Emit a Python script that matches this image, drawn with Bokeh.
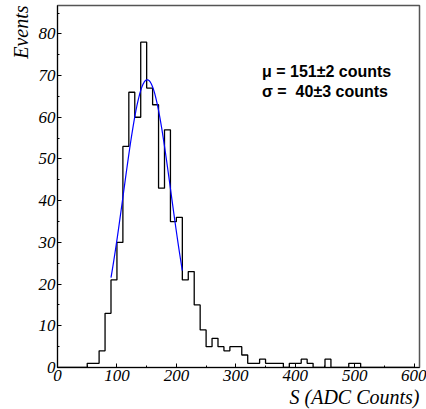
import numpy as np
from bokeh.plotting import figure
from bokeh.models import Range1d, SingleIntervalTicker, Label, Title
from bokeh.embed import file_html
from bokeh.resources import INLINE

# Histogram: bin lower edges (width 10) and counts
bin_width = 10
bin_low = list(range(0, 600, bin_width))
counts = [0, 0, 0, 0, 0,
          1, 1, 4, 13, 21,
          30, 53, 66, 60, 78,
          67, 63, 43, 57, 35,
          36, 21, 23, 15, 9,
          5, 7, 5, 4, 5,
          5, 3, 1, 1, 2,
          1, 1, 1, 0, 1,
          1, 2, 1, 0, 0,
          2, 0, 0, 0, 1,
          1, 0, 0, 0, 0,
          0, 0, 0, 0, 0]

# Gaussian fit parameters shown on the chart
fit_amp = 69.0
fit_mu = 151.0
fit_sigma = 40.0
fit_range = [90, 210]

x_title = "S (ADC Counts)"
y_title = "Events"
fit_text = ["μ = 151±2 counts", "σ =\u00a0 40±3 counts"]

p = figure(width=426, height=409, output_backend="svg", toolbar_location=None,
           x_range=Range1d(0, 609), y_range=Range1d(0, 86.8),
           min_border_left=57, min_border_right=7, min_border_top=5,
           min_border_bottom=42)
p.grid.visible = False
p.background_fill_color = "white"
p.border_fill_color = "white"
p.outline_line_color = "#555555"
p.outline_line_width = 1.5

for ax, iv in ((p.xaxis, 100), (p.yaxis, 10)):
    ax.ticker = SingleIntervalTicker(interval=iv, num_minor_ticks=2)
    ax.major_tick_in = 4
    ax.major_tick_out = 0
    ax.minor_tick_in = 2
    ax.minor_tick_out = 0
    ax.axis_line_color = "black"
    ax.major_tick_line_color = "black"
    ax.minor_tick_line_color = "black"
    ax.major_label_text_font = "Liberation Serif"
    ax.major_label_text_font_style = "italic"
    ax.major_label_text_font_size = "17px"
    ax.major_label_text_color = "black"
p.xaxis.major_label_standoff = 2
p.yaxis.major_label_standoff = 2

p.add_layout(Title(text=x_title, align="right", text_font="Liberation Serif",
                   text_font_style="italic", text_font_size="20px",
                   text_color="black", standoff=0), "below")
p.add_layout(Title(text=y_title, align="right", text_font="Liberation Serif",
                   text_font_style="italic", text_font_size="20px",
                   text_color="black", standoff=8), "left")

edges = bin_low + [bin_low[-1] + bin_width]
p.step(x=edges, y=counts + [counts[-1]], mode="after", line_color="black", line_width=1.3)

fx = np.linspace(fit_range[0], fit_range[1], 81)
fy = fit_amp * np.exp(-0.5 * ((fx - fit_mu) / fit_sigma) ** 2)
p.line(fx, fy, line_color="#0000ff", line_width=1.2)

for txt, yy in zip(fit_text, [69.0, 64.2]):
    p.add_layout(Label(x=344, y=yy, text=txt, text_font="Liberation Sans",
                       text_font_style="bold", text_font_size="16px", text_color="black"))

open("out.html", "w").write(file_html(p, INLINE))
